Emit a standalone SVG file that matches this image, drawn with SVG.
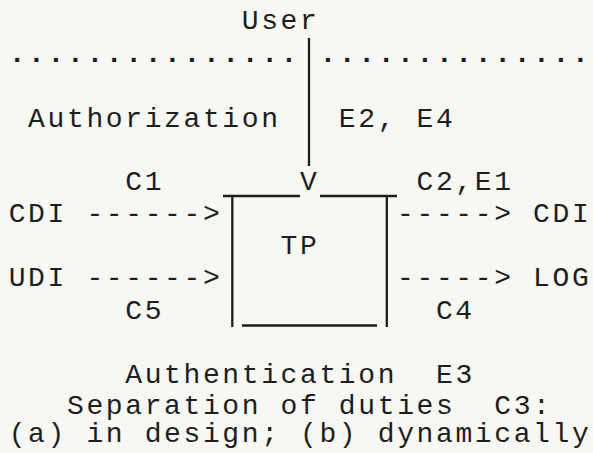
<svg xmlns="http://www.w3.org/2000/svg" width="593" height="453" viewBox="0 0 593 453" xml:space="preserve">
  <style>
    .t{font-family:"Liberation Mono","Courier New",monospace;font-size:28px;letter-spacing:2.62px;fill:#1e1e1e;white-space:pre}
    .dots{font-weight:bold}
    .ln{stroke:#1e1e1e;stroke-width:2.3;fill:none;stroke-linecap:butt}
  </style>
  <rect width="593" height="453" fill="#f7f7f3"/>

  <!-- character grid: column n starts at 8.7 + 19.42*n -->

  <g id="user">
    <text class="t" x="241.74" y="29">User</text>
  </g>

  <g id="boundary">
    <text class="t dots" x="8.7" y="62">...............</text>
    <text class="t dots" x="319.42" y="62">..............</text>
  </g>

  <g id="authorization">
    <text class="t" x="28.12" y="127">Authorization</text>
    <text class="t" x="338.84" y="127">E2, E4</text>
  </g>

  <g id="cdi-in">
    <text class="t" x="8.7" y="222">CDI</text>
  </g>
  <g id="udi-in">
    <text class="t" x="8.7" y="286">UDI</text>
  </g>
  <g id="cdi-out">
    <text class="t" x="533.04" y="222">CDI</text>
  </g>
  <g id="log">
    <text class="t" x="533.04" y="286">LOG</text>
  </g>

  <g id="tp">
    <path class="ln" d="M223 196H300M320 196H397M232.3 196V327M386.8 196V327M242 325.5H377"/>
    <text class="t" x="280.58" y="254">TP</text>
  </g>

  <g id="connectors">
    <line class="ln" x1="309" y1="38" x2="309" y2="166"/>
    <text class="t" x="300" y="190">V</text>
    <text class="t" x="86.38" y="222">------&gt;</text>
    <text class="t" x="86.38" y="286">------&gt;</text>
    <text class="t" x="397.1" y="222">-----&gt;</text>
    <text class="t" x="397.1" y="286">-----&gt;</text>
    <text class="t" x="125.22" y="190">C1</text>
    <text class="t" x="416.52" y="190">C2,E1</text>
    <text class="t" x="125.22" y="319">C5</text>
    <text class="t" x="435.94" y="319">C4</text>
  </g>

  <g id="notes">
    <text class="t" x="125.22" y="383">Authentication  E3</text>
    <text class="t" x="66.96" y="414">Separation of duties  C3:</text>
    <text class="t" x="8.7" y="442">(a) in design; (b) dynamically</text>
  </g>
</svg>
